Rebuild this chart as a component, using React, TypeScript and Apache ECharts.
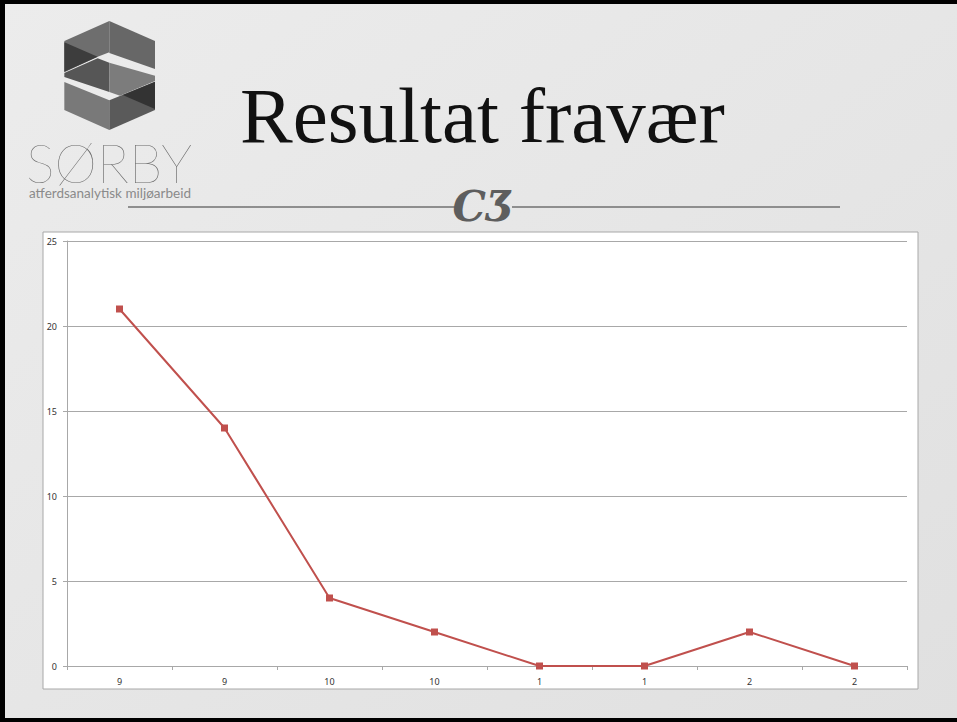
import React, { useEffect, useRef } from "react";
import * as echarts from "echarts";

const categories = ["9", "9", "10", "10", "1", "1", "2", "2"];
const values = [21, 14, 4, 2, 0, 0, 2, 0];
const yTicks = { min: 0, max: 25, interval: 5 };
const title = "Resultat fravær";
const brand = "SØRBY";
const tagline = "atferdsanalytisk miljøarbeid";

const logoPolys: [number[][], string][] = [
  [[[28, 78], [163, 18], [163, 112], [128, 125], [28, 172]], "#6e6e6e"],
  [[[28, 82], [128, 125], [28, 170]], "#3d3d3d"],
  [[[163, 18], [300, 78], [300, 162], [163, 114]], "#676767"],
  [[[28, 174], [128, 130], [163, 143], [163, 231], [28, 186]], "#565656"],
  [[[163, 143], [300, 182], [300, 198], [195, 242], [163, 231]], "#7c7c7c"],
  [[[28, 201], [163, 256], [163, 345], [28, 285]], "#797979"],
  [[[163, 256], [300, 200], [300, 285], [163, 345]], "#5a5a5a"],
  [[[203, 240], [300, 200], [300, 282]], "#333333"],
];

export default function App() {
  const ref = useRef<HTMLDivElement>(null);
  useEffect(() => {
    document.body.style.margin = "0";
    const chart = echarts.init(ref.current!, null, { renderer: "svg" });
    const logo = logoPolys.map(([pts, c]) => ({
      type: "polygon",
      shape: { points: pts.map(([x, y]) => [55 + x / 3, 15 + y / 3]) },
      style: { fill: c },
    }));
    chart.setOption({
      animation: false,
      backgroundColor: "#e7e7e7",
      graphic: [
        {
          type: "rect",
          z: -10,
          shape: { x: 0, y: 0, width: 957, height: 722 },
          style: {
            fill: new echarts.graphic.LinearGradient(0, 0, 1, 1, [
              { offset: 0, color: "#ececec" },
              { offset: 1, color: "#e0e0e0" },
            ]),
          },
        },
        { type: "rect", shape: { x: 0, y: 0, width: 957, height: 4 }, style: { fill: "#000" } },
        { type: "rect", shape: { x: 0, y: 0, width: 5, height: 722 }, style: { fill: "#000" } },
        { type: "rect", shape: { x: 0, y: 718, width: 957, height: 4 }, style: { fill: "#000" } },
        {
          type: "rect",
          z: -5,
          shape: { x: 43, y: 232, width: 875, height: 457 },
          style: { fill: "#fff", stroke: "#a8a8a8", lineWidth: 1 },
        },
        ...logo,
        {
          type: "text",
          x: 26,
          y: 140,
          style: {
            text: brand,
            font: "200 54px Lato, 'Noto Sans', sans-serif",
            lineHeight: 44,
            fill: "#6a6a6a",
            textVerticalAlign: "top",
          },
        },
        {
          type: "text",
          x: 29,
          y: 186,
          style: {
            text: tagline,
            font: "13.5px Lato, 'Noto Sans', sans-serif",
            lineHeight: 14,
            fill: "#8a8a8a",
            textVerticalAlign: "top",
          },
        },
        {
          type: "text",
          x: 240,
          y: 76,
          style: {
            text: title,
            font: "79px 'Liberation Serif', 'DejaVu Serif', serif",
            fill: "#111",
          },
        },
        { type: "line", shape: { x1: 128, y1: 207, x2: 455, y2: 207 }, style: { stroke: "#707070", lineWidth: 1.5 } },
        { type: "line", shape: { x1: 512, y1: 207, x2: 840, y2: 207 }, style: { stroke: "#707070", lineWidth: 1.5 } },
        {
          type: "text",
          x: 483,
          y: 206,
          style: {
            text: "CƷ",
            font: "italic bold 42px 'DejaVu Serif', serif",
            fill: "#5e5e5e",
            align: "center",
            verticalAlign: "middle",
          },
        },
      ],
      grid: { left: 67, right: 50, top: 241, bottom: 56, containLabel: false },
      xAxis: {
        type: "category",
        data: categories,
        boundaryGap: true,
        axisLine: { lineStyle: { color: "#a8a8a8", width: 1 } },
        axisTick: { show: true, alignWithLabel: false, length: 4, lineStyle: { color: "#a8a8a8" } },
        axisLabel: { color: "#333", fontSize: 9, margin: 11, fontFamily: "'Noto Sans', sans-serif" },
        splitLine: { show: false },
      },
      yAxis: {
        type: "value",
        min: yTicks.min,
        max: yTicks.max,
        interval: yTicks.interval,
        axisLine: { show: true, lineStyle: { color: "#a8a8a8", width: 1 } },
        axisTick: { show: true, length: 4, lineStyle: { color: "#a8a8a8" } },
        axisLabel: { color: "#333", fontSize: 9, margin: 10, fontFamily: "'Noto Sans', sans-serif" },
        splitLine: { show: true, lineStyle: { color: "#a8a8a8", width: 1 } },
      },
      series: [
        {
          type: "line",
          data: values,
          symbol: "rect",
          symbolSize: 7,
          lineStyle: { color: "#c0504d", width: 2 },
          itemStyle: { color: "#c0504d" },
        },
      ],
    });
    return () => chart.dispose();
  }, []);
  return <div ref={ref} style={{ position: "fixed", left: 0, top: 0, width: 957, height: 722 }} />;
}
